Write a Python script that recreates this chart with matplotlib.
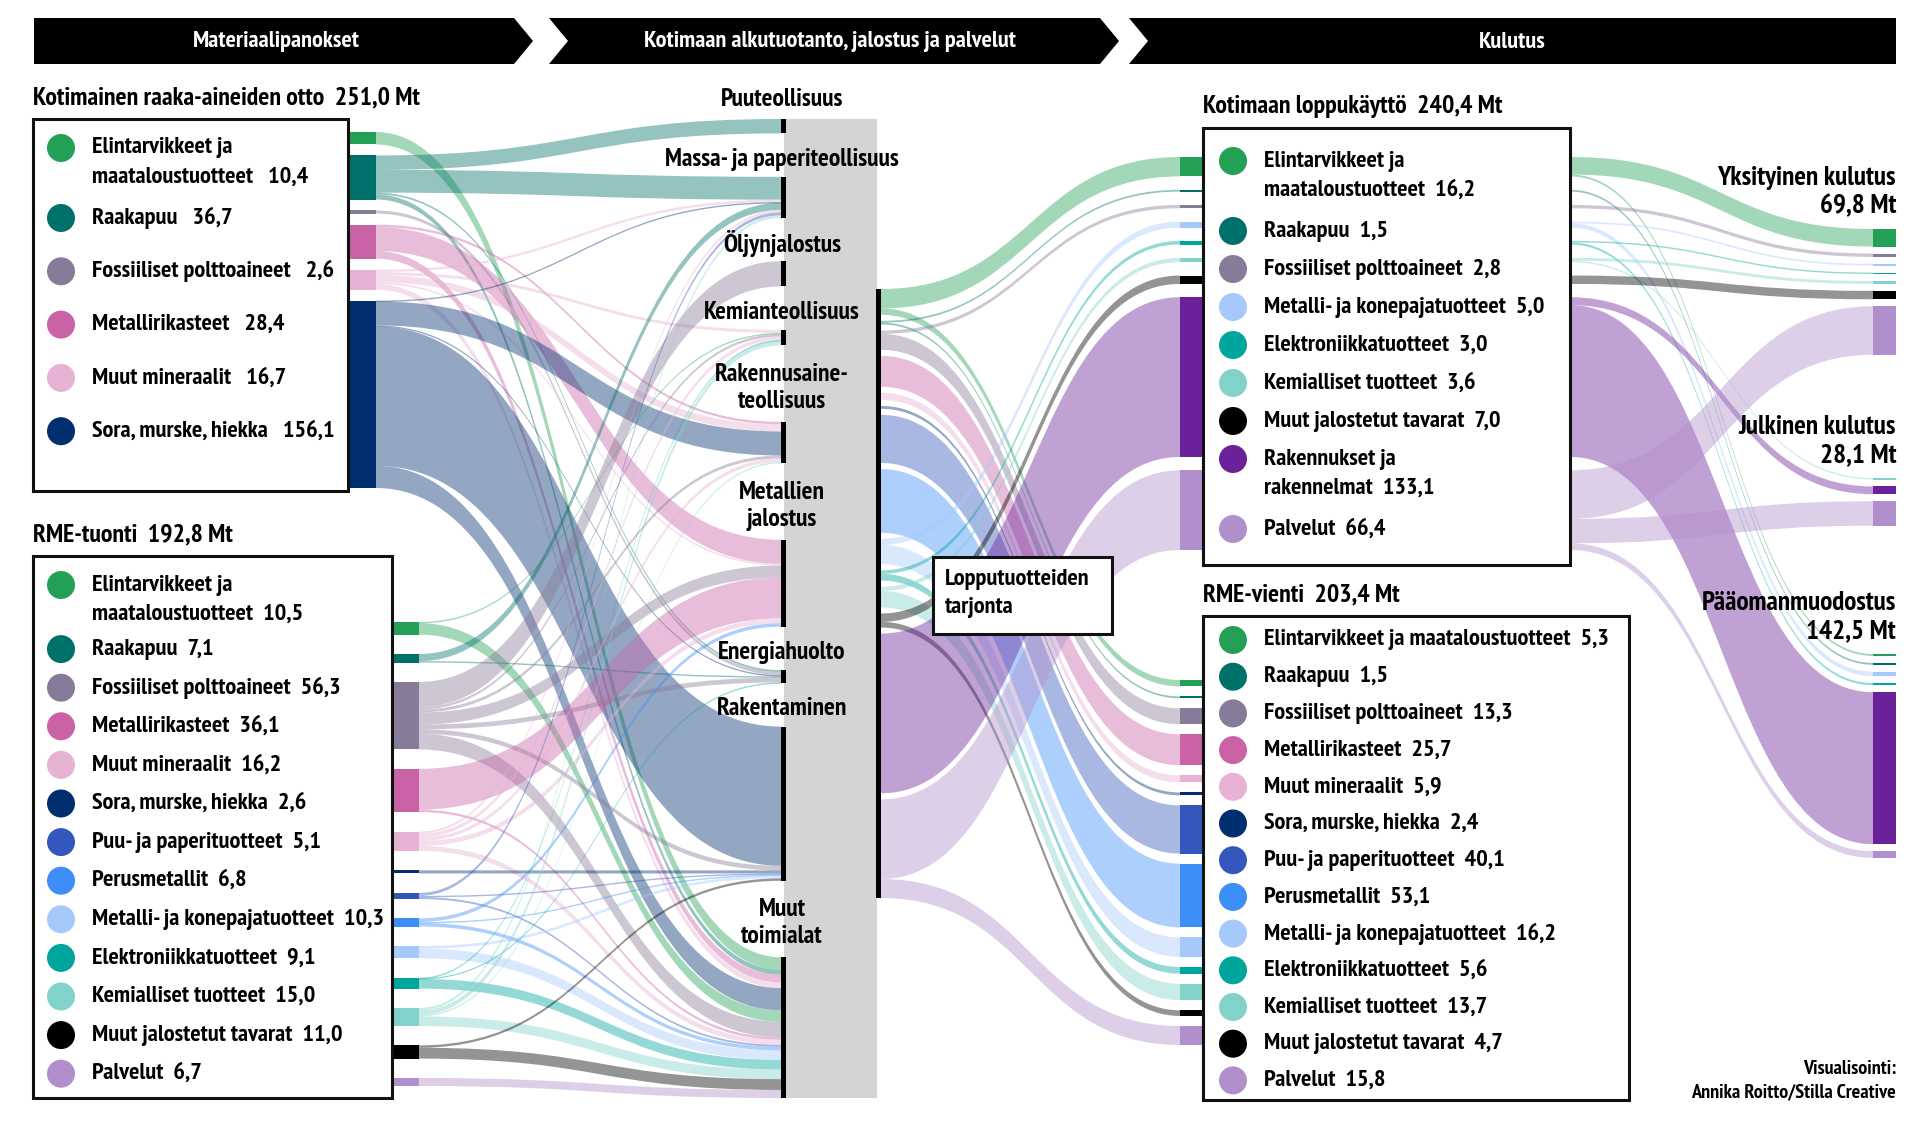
import matplotlib
matplotlib.use("Agg")
import matplotlib.pyplot as plt
from matplotlib.path import Path
from matplotlib.patches import PathPatch, Rectangle, Circle, Polygon
from matplotlib import font_manager

installed = {f.name for f in font_manager.fontManager.ttflist}
for fam in ["PT Sans Narrow", "Fira Sans Condensed", "Roboto Condensed", "Liberation Sans"]:
    if fam in installed:
        break
plt.rcParams["font.family"] = [fam, "DejaVu Sans"]

# ---------------- data (Mt) ----------------
dom_input_labels = ["Elintarvikkeet ja\nmaataloustuotteet", "Raakapuu", "Fossiiliset polttoaineet",
                    "Metallirikasteet", "Muut mineraalit", "Sora, murske, hiekka"]
dom_input_keys = ["elin", "raaka", "foss", "metrik", "mmin", "sora"]
dom_input_values = [10.4, 36.7, 2.6, 28.4, 16.7, 156.1]

imp_input_labels = ["Elintarvikkeet ja\nmaataloustuotteet", "Raakapuu", "Fossiiliset polttoaineet",
                    "Metallirikasteet", "Muut mineraalit", "Sora, murske, hiekka",
                    "Puu- ja paperituotteet", "Perusmetallit", "Metalli- ja konepajatuotteet",
                    "Elektroniikkatuotteet", "Kemialliset tuotteet", "Muut jalostetut tavarat", "Palvelut"]
imp_input_keys = ["elin", "raaka", "foss", "metrik", "mmin", "sora", "puupap", "perus",
                  "metkone", "elektr", "kemial", "muutjal", "palv"]
imp_input_values = [10.5, 7.1, 56.3, 36.1, 16.2, 2.6, 5.1, 6.8, 10.3, 9.1, 15.0, 11.0, 6.7]

industries = ["Puuteollisuus", "Massa- ja paperiteollisuus", "Öljynjalostus", "Kemianteollisuus",
              "Rakennusaine-\nteollisuus", "Metallien\njalostus", "Energiahuolto", "Rakentaminen",
              "Muut\ntoimialat"]

# rows: inputs, columns: industries (estimated from ribbon widths)
dom_to_ind = [
    [0, 0, 0, 0, 0, 0, 0, 0, 10.4],
    [12.0, 19.0, 0, 0, 0, 0, 1.5, 0, 4.2],
    [0, 0, 0, 0, 0, 0, 2.6, 0, 0],
    [0, 0, 0, 0, 2.0, 20.0, 0, 0, 6.4],
    [0, 2.0, 0, 2.5, 6.0, 1.5, 0, 0, 4.7],
    [0, 0.6, 0, 0, 20.0, 0, 1.0, 116.0, 18.5],
]
imp_to_ind = [
    [0, 0, 0, 1.0, 0, 0, 0, 0, 9.5],
    [0, 6.0, 0, 0, 0, 0, 1.1, 0, 0],
    [0, 0, 21.0, 2.0, 2.5, 10.0, 4.0, 3.8, 13.0],
    [0, 0, 0, 0, 0, 34.0, 0, 0, 2.1],
    [0, 2.0, 0, 3.0, 3.0, 4.0, 0, 0, 4.2],
    [0, 0, 0, 0, 0, 0, 0, 2.6, 0],
    [0, 2.5, 0, 0, 0, 0, 0, 1.0, 1.6],
    [0, 0, 0, 0, 0, 3.0, 0, 0.8, 3.0],
    [0, 0, 0, 0, 0, 0, 0, 2.3, 8.0],
    [0, 0, 0, 0.5, 0, 0, 0.6, 0, 8.0],
    [0, 2.0, 0, 4.0, 1.0, 0, 0, 0, 8.0],
    [0, 0, 0, 0, 0, 0, 0, 2.0, 9.0],
    [0, 0, 0, 0, 0, 0, 0, 0, 6.7],
]

use_labels = ["Elintarvikkeet ja\nmaataloustuotteet", "Raakapuu", "Fossiiliset polttoaineet",
              "Metalli- ja konepajatuotteet", "Elektroniikkatuotteet", "Kemialliset tuotteet",
              "Muut jalostetut tavarat", "Rakennukset ja\nrakennelmat", "Palvelut"]
use_keys = ["elin", "raaka", "foss", "metkone", "elektr", "kemial", "muutjal", "rakenn", "palv"]
use_values = [16.2, 1.5, 2.8, 5.0, 3.0, 3.6, 7.0, 133.1, 66.4]

exp_labels = ["Elintarvikkeet ja maataloustuotteet", "Raakapuu", "Fossiiliset polttoaineet",
              "Metallirikasteet", "Muut mineraalit", "Sora, murske, hiekka",
              "Puu- ja paperituotteet", "Perusmetallit", "Metalli- ja konepajatuotteet",
              "Elektroniikkatuotteet", "Kemialliset tuotteet", "Muut jalostetut tavarat", "Palvelut"]
exp_keys = ["elin", "raaka", "foss", "metrik", "mmin", "sora", "puupap", "perus",
            "metkone", "elektr", "kemial", "muutjal", "palv"]
exp_values = [5.3, 1.5, 13.3, 25.7, 5.9, 2.4, 40.1, 53.1, 16.2, 5.6, 13.7, 4.7, 15.8]

final_labels = ["Yksityinen kulutus", "Julkinen kulutus", "Pääomanmuodostus"]
final_totals = ["69,8 Mt", "28,1 Mt", "142,5 Mt"]
# rows: use_keys, columns: final categories
use_to_final = [
    [14.6, 0, 1.6],
    [0, 0, 1.5],
    [2.8, 0, 0],
    [1.4, 0, 3.6],
    [1.2, 0, 1.8],
    [2.4, 1.2, 0],
    [7.0, 0, 0],
    [0, 6.5, 126.6],
    [40.4, 20.4, 5.6],
]

supply_order = ["elin", "raaka", "foss", "metrik", "mmin", "sora", "puupap", "perus",
                "metkone", "elektr", "kemial", "muutjal", "rakenn", "palv"]

headers = ["Materiaalipanokset", "Kotimaan alkutuotanto, jalostus ja palvelut", "Kulutus"]

colors = {"elin": "#23a055", "raaka": "#00716a", "foss": "#867b98", "metrik": "#c963a6",
          "mmin": "#e8b2d4", "sora": "#002e6e", "puupap": "#3457bd", "perus": "#3d8ef7",
          "metkone": "#a6c9fb", "elektr": "#00a69b", "kemial": "#82d2cc", "muutjal": "#000000",
          "rakenn": "#6b2199", "palv": "#b18ecc"}

S = 1.2          # px per Mt
ALPHA = 0.42
FS = 17.6        # main text size

fig = plt.figure(figsize=(19.2, 11.21), dpi=100)
ax = fig.add_axes([0, 0, 1, 1])
ax.set_xlim(0, 1920)
ax.set_ylim(1121, 0)
ax.axis("off")


def fmt(v):
    return f"{v:.1f}".replace(".", ",")


def stack(values, top, bottom):
    gap = (bottom - top - sum(values) * S) / (len(values) - 1)
    ys, y = [], top
    for v in values:
        ys.append(y)
        y += v * S + gap
    return ys


def ribbon(x0, y0, x1, y1, v, color):
    h = max(v * S, 1.4)
    xm = (x0 + x1) / 2
    verts = [(x0, y0), (xm, y0), (xm, y1), (x1, y1),
             (x1, y1 + h), (xm, y1 + h), (xm, y0 + h), (x0, y0 + h), (x0, y0)]
    codes = [Path.MOVETO, Path.CURVE4, Path.CURVE4, Path.CURVE4,
             Path.LINETO, Path.CURVE4, Path.CURVE4, Path.CURVE4, Path.CLOSEPOLY]
    ax.add_patch(PathPatch(Path(verts, codes), fc=color, ec="none", alpha=ALPHA, zorder=1))


def bars(x0, x1, ys, values, keys):
    for y, v, k in zip(ys, values, keys):
        ax.add_patch(Rectangle((x0, y), x1 - x0, max(v * S, 1.5), fc=colors[k], ec="none", zorder=3))


def legend_box(rect, title, total, labels, keys, values, y0, step, extra, cx, tx, sep):
    x0, y_top, x1, y_bot = rect
    ax.add_patch(Rectangle((x0, y_top), x1 - x0, y_bot - y_top, fc="white", ec="#111111",
                           lw=2.2, zorder=5))
    ax.text(x0, y_top - 21, f"{title}  {total}", fontsize=18.6, fontweight="bold",
            va="center", ha="left", zorder=6)
    y = y0
    for lab, k, v in zip(labels, keys, values):
        ax.add_patch(Circle((cx, y), 14, fc=colors[k], ec="none", zorder=6))
        lines = lab.split("\n")
        lines[-1] = lines[-1] + sep + fmt(v)
        for n, line in enumerate(lines):
            ax.text(tx, y + n * 29, line, fontsize=FS, fontweight="bold", va="center",
                    ha="left", zorder=6)
        y += step + (len(lines) - 1) * extra


# ---------------- header chevrons ----------------
hy0, hy1, hym = 18, 64, 41
shapes = [
    [(34, hy0), (514, hy0), (533, hym), (514, hy1), (34, hy1)],
    [(549, hy0), (1100, hy0), (1119, hym), (1100, hy1), (549, hy1), (568, hym)],
    [(1129, hy0), (1896, hy0), (1896, hy1), (1129, hy1), (1148, hym)],
]
centers = [276, 830, 1512]
for shp, cxh, txt in zip(shapes, centers, headers):
    ax.add_patch(Polygon(shp, closed=True, fc="black", ec="none", zorder=5))
    ax.text(cxh, hym + 1, txt, color="white", fontsize=17.6, fontweight="bold",
            ha="center", va="center", zorder=6)

# ---------------- inputs -> industries ----------------
dom_y = stack(dom_input_values, 132, 488)
imp_y = stack(imp_input_values, 622, 1086)

ind_totals = [sum(r[j] for r in dom_to_ind) + sum(r[j] for r in imp_to_ind)
              for j in range(len(industries))]
ind_lines = [lab.count("\n") + 1 for lab in industries]
g1 = (1098 - 119 - sum(ind_totals) * S - 33 * sum(n - 1 for n in ind_lines[1:])) / (len(industries) - 1)
ind_y, y = [], 119
label_y = [100]
for j, t in enumerate(ind_totals):
    if j > 0:
        gap = g1 + 33 * (ind_lines[j] - 1)
        label_y.append(y + gap / 2 + 4)
        y += gap
    ind_y.append(y)
    y += t * S

IND_X = 781
tgt = list(ind_y)
for ys, x0, matrix, keys in [(dom_y, 376, dom_to_ind, dom_input_keys),
                             (imp_y, 419, imp_to_ind, imp_input_keys)]:
    for i, row in enumerate(matrix):
        src = ys[i]
        for j, v in enumerate(row):
            if v > 0:
                ribbon(x0, src, IND_X, tgt[j], v, colors[keys[i]])
                src += v * S
                tgt[j] += v * S

bars(349, 376, dom_y, dom_input_values, dom_input_keys)
bars(392, 419, imp_y, imp_input_values, imp_input_keys)

# grey processing block and industry nodes
ax.add_patch(Rectangle((784, 119), 93, 1098 - 119, fc="#d4d4d4", ec="none", zorder=2))
for yy, t in zip(ind_y, ind_totals):
    ax.add_patch(Rectangle((IND_X, yy), 5, t * S, fc="black", ec="none", zorder=4))
for lab, ly in zip(industries, label_y):
    lines = lab.split("\n")
    off = (len(lines) - 1) * 13.5
    for n, line in enumerate(lines):
        ax.text(782, ly - off + n * 27, line, fontsize=18.4, fontweight="bold",
                ha="center", va="center", zorder=6)

# ---------------- supply -> domestic use / export ----------------
use_y = stack(use_values, 157, 550)
exp_y = stack(exp_values, 680, 1045)

SUP_TOP, SUP_BOT = 289, 898
sup_total = sum(use_values) + sum(exp_values)
sgap = (SUP_BOT - SUP_TOP - sup_total * S) / (len(supply_order) - 1)
ax.add_patch(Rectangle((876, SUP_TOP), 5, SUP_BOT - SUP_TOP, fc="black", ec="none", zorder=4))
src = SUP_TOP
for k in supply_order:
    if k in use_keys:
        i = use_keys.index(k)
        ribbon(881, src, 1180, use_y[i], use_values[i], colors[k])
        src += use_values[i] * S
    if k in exp_keys:
        i = exp_keys.index(k)
        ribbon(881, src, 1180, exp_y[i], exp_values[i], colors[k])
        src += exp_values[i] * S
    src += sgap

bars(1180, 1203, use_y, use_values, use_keys)
bars(1180, 1203, exp_y, exp_values, exp_keys)

ax.add_patch(Rectangle((933, 557), 1112 - 933, 634 - 557, fc="white", ec="#111111", lw=2.2, zorder=5))
ax.text(945, 580, "Lopputuotteiden", fontsize=FS, fontweight="bold", ha="left", va="center", zorder=6)
ax.text(945, 608, "tarjonta", fontsize=FS, fontweight="bold", ha="left", va="center", zorder=6)

# ---------------- domestic use -> final demand ----------------
group_top = [229, 478, 654]
final_y = {}
for g, top in enumerate(group_top):
    y = top
    for i, row in enumerate(use_to_final):
        if row[g] > 0:
            final_y[(i, g)] = y
            ax.add_patch(Rectangle((1873, y), 23, max(row[g] * S, 1.5), fc=colors[use_keys[i]],
                                   ec="none", zorder=3))
            y += row[g] * S + 7
    ax.text(1896, top - 51, final_labels[g], fontsize=19.6, fontweight="bold", ha="right",
            va="center", zorder=6)
    ax.text(1896, top - 23, final_totals[g], fontsize=19.6, fontweight="bold", ha="right",
            va="center", zorder=6)

for i, row in enumerate(use_to_final):
    src = use_y[i]
    for g, v in enumerate(row):
        if v > 0:
            ribbon(1570, src, 1873, final_y[(i, g)], v, colors[use_keys[i]])
            src += v * S

# ---------------- legend boxes ----------------
legend_box((33, 119, 348, 491), "Kotimainen raaka-aineiden otto", "251,0 Mt",
           dom_input_labels, dom_input_keys, dom_input_values, 148, 53.3, 16.7, 61, 92, "   ")
legend_box((33, 556, 392, 1098), "RME-tuonti", "192,8 Mt",
           imp_input_labels, imp_input_keys, imp_input_values, 585, 38.6, 25.5, 61, 92, "  ")
legend_box((1203, 128, 1570, 565), "Kotimaan loppukäyttö", "240,4 Mt",
           use_labels, use_keys, use_values, 161, 38.0, 32.0, 1233, 1264, "  ")
legend_box((1203, 616, 1629, 1100), "RME-vienti", "203,4 Mt",
           exp_labels, exp_keys, exp_values, 640, 36.7, 0, 1233, 1264, "  ")

ax.text(1896, 1069, "Visualisointi:", fontsize=14.5, fontweight="bold", ha="right", va="center")
ax.text(1896, 1092, "Annika Roitto/Stilla Creative", fontsize=14.5, fontweight="bold",
        ha="right", va="center")

fig.savefig("out.png", dpi=100, facecolor="white")
